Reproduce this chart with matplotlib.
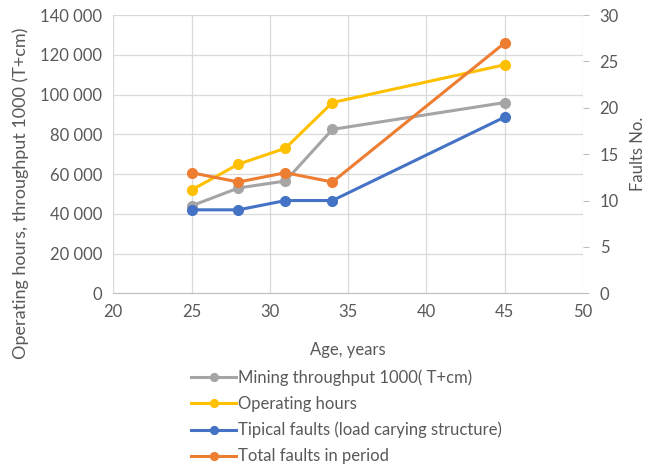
import matplotlib.pyplot as plt
from matplotlib.ticker import FuncFormatter

plt.rcParams['font.family'] = ['Lato', 'DejaVu Sans']

# data
age = [25, 28, 31, 34, 45]
throughput = [44000, 53000, 56500, 82500, 96000]
hours = [52000, 65000, 73000, 96000, 115000]
typical_faults = [9, 9, 10, 10, 19]
total_faults = [13, 12, 13, 12, 27]

labels = ['Mining throughput 1000( T+cm)', 'Operating hours',
          'Tipical faults (load carying structure)', 'Total faults in period']
colors = ['#A5A5A5', '#FFC000', '#4472C4', '#ED7D31']
txt = '#595959'
fs = 12

fig = plt.figure(figsize=(6.47, 4.73), dpi=100)
ax = fig.add_axes([0.175, 0.38, 0.726, 0.588])
ax2 = ax.twinx()

l1, = ax.plot(age, throughput, color=colors[0], lw=2.2, marker='o', ms=7, label=labels[0])
l2, = ax.plot(age, hours, color=colors[1], lw=2.2, marker='o', ms=7, label=labels[1])
l3, = ax2.plot(age, typical_faults, color=colors[2], lw=2.2, marker='o', ms=7, label=labels[2])
l4, = ax2.plot(age, total_faults, color=colors[3], lw=2.2, marker='o', ms=7, label=labels[3])

ax.set_xlim(20, 50)
ax.set_ylim(0, 140000)
ax.set_yticks(range(0, 140001, 20000))
ax.yaxis.set_major_formatter(FuncFormatter(lambda v, p: f'{int(v):,}'.replace(',', ' ')))
ax2.set_ylim(0, 30)
ax2.set_yticks(range(0, 31, 5))

ax.grid(True, color='#D9D9D9', lw=0.9)
ax.set_axisbelow(True)
for a in (ax, ax2):
    for s in ['top', 'left', 'right']:
        a.spines[s].set_visible(False)
    a.spines['bottom'].set_color('#BFBFBF')
    a.tick_params(colors=txt, labelsize=fs)
ax.tick_params(axis='y', length=0, pad=8)
ax.tick_params(axis='x', length=0, pad=8)
ax2.tick_params(axis='y', length=4, color='#BFBFBF', pad=8)
ax2.spines['bottom'].set_visible(False)

ax.set_xlabel('Age, years', color=txt, fontsize=fs)
ax.set_ylabel('Operating hours, throughput 1000 (T+cm)', color=txt, fontsize=13)
ax2.set_ylabel('Faults No.', color=txt, fontsize=fs)
ax.xaxis.set_label_coords(0.5, -0.175)
ax.yaxis.set_label_coords(-0.18, 0.36)
ax2.yaxis.set_label_coords(1.1, 0.5)

leg = fig.legend(handles=[l1, l2, l3, l4], loc='upper left', bbox_to_anchor=(0.283, 0.237),
                 frameon=False, fontsize=fs, handlelength=2.7, handletextpad=0.1,
                 labelspacing=0.6, borderpad=0, markerscale=0.8)
for t in leg.get_texts():
    t.set_color(txt)

fig.savefig('out.png', dpi=100)
